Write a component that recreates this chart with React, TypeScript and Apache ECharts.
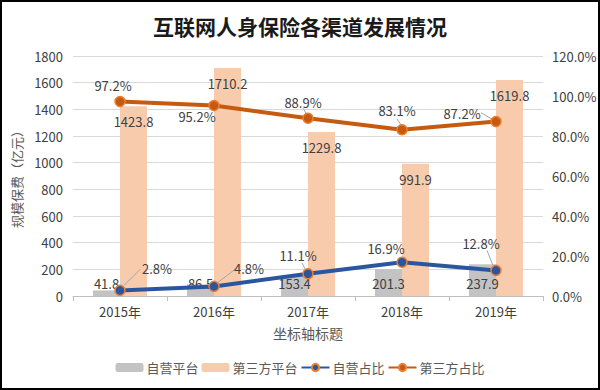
import React, { useEffect, useRef } from 'react';
import * as echarts from 'echarts';

const categories = ['2015年', '2016年', '2017年', '2018年', '2019年'];
const selfPlatform = [41.8, 86.5, 153.4, 201.3, 237.9];
const thirdPlatform = [1423.8, 1710.2, 1229.8, 991.9, 1619.8];
const selfShare = [2.8, 4.8, 11.1, 16.9, 12.8];
const thirdShare = [97.2, 95.2, 88.9, 83.1, 87.2];
const seriesNames = ['自营平台', '第三方平台', '自营占比', '第三方占比'];

// label placement (styling only): offset of each label from its point
const thirdLabelShift = [[-7, -16], [-17, 11], [-5, -16], [-5, -19], [-34, -8]];
const selfLabelShift = [[37, -22], [35, -18], [-10, -18], [-16, -14], [-15, -27]];
// leader lines (styling only): [startDx, startDy, endDx, endDy] relative to the point, or null
const thirdLeaders: (number[] | null)[] = [null, null, [-5, -10, -2, -5], [-5, -11, -1, -5], [-15, -9, -5, -3]];
const selfLeaders: (number[] | null)[] = [[20, -21, 4, -5], [21, -17, 4, -4], [-6, -11, -3, -5], null, [-9, -20, -3, -5]];

const FONT = "'Noto Sans CJK SC', 'Noto Sans', sans-serif";

function leaderSeries(values: number[], leaders: (number[] | null)[]) {
  return {
    type: 'custom',
    yAxisIndex: 1,
    silent: true,
    z: 4,
    data: values.map((v, i) => [i, v]),
    renderItem: (params: any, api: any) => {
      const l = leaders[params.dataIndex];
      if (!l) return null;
      const p = api.coord([api.value(0), api.value(1)]);
      return {
        type: 'line',
        shape: { x1: p[0] + l[0], y1: p[1] + l[1], x2: p[0] + l[2], y2: p[1] + l[3] },
        style: { stroke: '#a6a6a6', lineWidth: 1 },
      };
    },
  };
}

export default function App() {
  const ref = useRef<HTMLDivElement>(null);
  useEffect(() => {
    document.body.style.margin = '0';
    const chart = echarts.init(ref.current!, null, { renderer: 'svg' });
    const labelText = { fontFamily: FONT, fontSize: 13, color: '#404040' };
    chart.setOption({
      animation: false,
      backgroundColor: '#fff',
      textStyle: { fontFamily: FONT },
      title: {
        text: '互联网人身保险各渠道发展情况',
        left: 'center',
        top: 10,
        textStyle: { fontFamily: FONT, fontSize: 21, fontWeight: 'bold', color: '#1a1a1a' },
      },
      graphic: [
        {
          type: 'rect',
          shape: { x: 1, y: 1, width: 598, height: 388 },
          style: { fill: 'none', stroke: '#000', lineWidth: 2 },
          silent: true,
          z: 100,
        },
      ],
      legend: {
        bottom: 11,
        left: 'center',
        itemGap: 3,
        itemWidth: 28,
        itemHeight: 9,
        data: seriesNames,
        textStyle: { fontFamily: FONT, fontSize: 13, color: '#595959', padding: [0, 0, 0, -2] },
      },
      grid: { left: 73, right: 57, top: 56, bottom: 94, containLabel: false },
      xAxis: {
        type: 'category',
        data: categories,
        name: '坐标轴标题',
        nameLocation: 'middle',
        nameGap: 30,
        nameTextStyle: { fontFamily: FONT, fontSize: 14, color: '#595959' },
        axisLine: { lineStyle: { color: '#bfbfbf', width: 1 } },
        axisTick: { show: true, length: 5, lineStyle: { color: '#bfbfbf' } },
        axisLabel: { fontFamily: FONT, fontSize: 13, color: '#404040', margin: 9 },
      },
      yAxis: [
        {
          type: 'value',
          min: 0,
          max: 1800,
          interval: 200,
          name: '规模保费（亿元）',
          nameLocation: 'middle',
          nameGap: 46,
          nameRotate: 90,
          nameTextStyle: { fontFamily: FONT, fontSize: 13, color: '#595959' },
          axisLine: { show: false, lineStyle: { color: '#595959' } },
          axisTick: { show: false },
          axisLabel: { fontFamily: FONT, fontSize: 13, color: '#404040', margin: 10, formatter: (v: number) => String(v) },
          splitLine: { lineStyle: { color: '#d9d9d9', width: 1 } },
        },
        {
          type: 'value',
          min: 0,
          max: 120,
          interval: 20,
          axisLine: { show: false },
          axisTick: { show: false },
          splitLine: { show: false },
          axisLabel: {
            fontFamily: FONT,
            fontSize: 13,
            color: '#404040',
            margin: 9,
            formatter: (v: number) => v.toFixed(1) + '%',
          },
        },
      ],
      series: [
        {
          name: seriesNames[0],
          type: 'bar',
          data: selfPlatform,
          barWidth: 27,
          barGap: '0%',
          itemStyle: { color: '#c3c3c3' },
          label: { show: true, position: 'insideBottom', distance: 6, ...labelText, formatter: (p: any) => p.value.toFixed(1) },
          z: 2,
        },
        {
          name: seriesNames[1],
          type: 'bar',
          data: thirdPlatform,
          barWidth: 27,
          barGap: '0%',
          itemStyle: { color: '#f8cbad' },
          label: { show: true, position: 'insideTop', distance: 9, ...labelText, formatter: (p: any) => p.value.toFixed(1) },
          z: 2,
        },
        {
          name: seriesNames[2],
          type: 'line',
          yAxisIndex: 1,
          data: selfShare,
          symbol: 'circle',
          symbolSize: 10,
          lineStyle: { color: '#2a56a0', width: 4 },
          itemStyle: { color: '#2a56a0', borderColor: '#ed7d31', borderWidth: 1.5 },
          label: { show: true, position: 'inside', ...labelText, formatter: (p: any) => p.value.toFixed(1) + '%' },
          labelLayout: (p: any) => ({ dx: selfLabelShift[p.dataIndex][0], dy: selfLabelShift[p.dataIndex][1] }),
          z: 5,
        },
        {
          name: seriesNames[3],
          type: 'line',
          yAxisIndex: 1,
          data: thirdShare,
          symbol: 'circle',
          symbolSize: 10,
          lineStyle: { color: '#c55a11', width: 4 },
          itemStyle: { color: '#c55a11', borderColor: '#ed7d31', borderWidth: 1.5 },
          label: { show: true, position: 'inside', ...labelText, formatter: (p: any) => p.value.toFixed(1) + '%' },
          labelLayout: (p: any) => ({ dx: thirdLabelShift[p.dataIndex][0], dy: thirdLabelShift[p.dataIndex][1] }),
          z: 5,
        },
        leaderSeries(selfShare, selfLeaders),
        leaderSeries(thirdShare, thirdLeaders),
      ],
    });
    return () => chart.dispose();
  }, []);
  return <div ref={ref} style={{ position: 'absolute', left: 0, top: 0, width: 600, height: 390 }} />;
}
